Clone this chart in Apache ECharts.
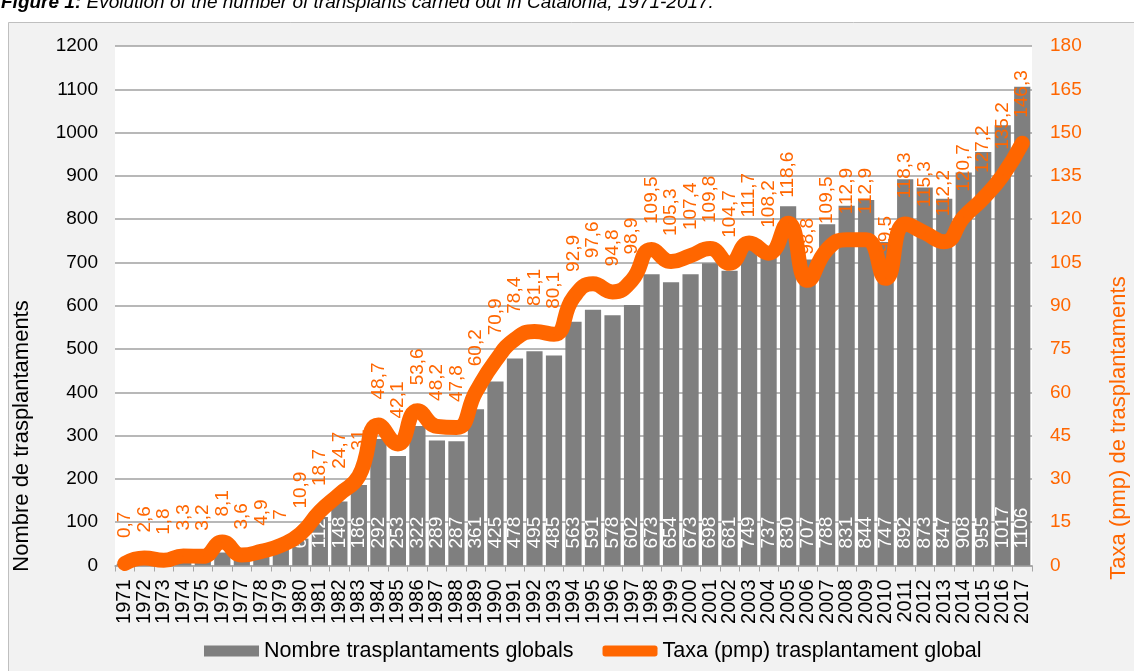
<!DOCTYPE html>
<html>
<head>
<meta charset="utf-8">
<title>Trasplantaments Catalunya 1971-2017</title>
<script src="https://cdn.jsdelivr.net/npm/echarts@6/dist/echarts.min.js"></script>
<style>
  html, body { margin: 0; padding: 0; background: #fff; }
  #container { width: 1134px; height: 671px; }
</style>
</head>
<body>
<div id="container"></div>
<script>
  // anys
  var years = ['1971', '1972', '1973', '1974', '1975', '1976', '1977', '1978', '1979', '1980',
    '1981', '1982', '1983', '1984', '1985', '1986', '1987', '1988', '1989', '1990',
    '1991', '1992', '1993', '1994', '1995', '1996', '1997', '1998', '1999', '2000',
    '2001', '2002', '2003', '2004', '2005', '2006', '2007', '2008', '2009', '2010',
    '2011', '2012', '2013', '2014', '2015', '2016', '2017']
  // nombre de trasplantaments globals (barres)
  var totalTx = [4, 14, 10, 18, 18, 30, 21, 29, 42, 62,
    112, 148, 186, 292, 253, 322, 289, 287, 361, 425,
    478, 495, 485, 563, 591, 578, 602, 673, 654, 673,
    698, 681, 749, 737, 830, 707, 788, 831, 844, 747,
    892, 873, 847, 908, 955, 1017, 1106]
  // taxa pmp (linia)
  var ratePmp = [0.7, 2.6, 1.8, 3.3, 3.2, 8.1, 3.6, 4.9, 7, 10.9,
    18.7, 24.7, 31, 48.7, 42.1, 53.6, 48.2, 47.8, 60.2, 70.9,
    78.4, 81.1, 80.1, 92.9, 97.6, 94.8, 98.9, 109.5, 105.3, 107.4,
    109.8, 104.7, 111.7, 108.2, 118.6, 98.8, 109.5, 112.9, 112.9, 99.5,
    118.3, 115.3, 112.2, 120.7, 127.2, 135.2, 146.3]

  var orange = '#FF6600'
  var grey = '#7F7F7F'
  var font = 'Liberation Sans, Arial, sans-serif'

  // coma decimal com a l'original
  function comma(v) {
    return String(v).replace('.', ',')
  }

  var myChart = echarts.init(document.getElementById('container'))
  myChart.setOption({
    backgroundColor: '#fff',
    textStyle: { fontFamily: font },
    graphic: [
      {
        type: 'rect',
        z: -10,
        shape: { x: 8.5, y: 22.5, width: 1140, height: 660 },
        style: { fill: '#F2F2F2', stroke: '#BFBFBF', lineWidth: 1 }
      },
      {
        type: 'text',
        left: 1,
        top: -7,
        style: {
          text: '{b|Figure 1:} Evolution of the number of transplants carried out in Catalonia, 1971-2017.',
          font: 'italic 19px ' + font,
          fill: '#000',
          rich: { b: { fontWeight: 'bold', fontStyle: 'italic', fontSize: 19 } }
        }
      },
      {
        type: 'text',
        x: 22,
        y: 436,
        rotation: Math.PI / 2,
        style: {
          text: 'Nombre de trasplantaments',
          font: '22px ' + font,
          fill: '#000',
          align: 'center',
          verticalAlign: 'middle'
        }
      },
      {
        type: 'text',
        x: 1119,
        y: 428,
        rotation: Math.PI / 2,
        style: {
          text: 'Taxa (pmp) de trasplantaments',
          font: '22px ' + font,
          fill: orange,
          align: 'center',
          verticalAlign: 'middle'
        }
      }
    ],
    legend: {
      bottom: 4,
      left: 199,
      itemWidth: 55,
      itemHeight: 11,
      itemGap: 29,
      textStyle: { fontSize: 21.5, color: '#000', fontFamily: font },
      data: [
        { name: 'Nombre trasplantaments globals', icon: 'rect' },
        { name: 'Taxa (pmp) trasplantament global', icon: 'roundRect' }
      ]
    },
    grid: {
      left: 115,
      right: 102,
      top: 46,
      bottom: 105.5,
      show: true,
      backgroundColor: '#fff',
      borderWidth: 0
    },
    xAxis: {
      type: 'category',
      data: years,
      axisLine: { lineStyle: { color: '#A6A6A6', width: 1.5 } },
      axisTick: { show: true, length: 6, lineStyle: { color: '#A6A6A6' } },
      axisLabel: { rotate: 90, fontSize: 20, color: '#000', margin: 14, interval: 0 }
    },
    yAxis: [
      {
        type: 'value',
        min: 0,
        max: 1200,
        interval: 100,
        axisLine: { show: false },
        axisTick: { show: false },
        axisLabel: {
          fontSize: 19,
          color: '#000',
          margin: 17,
          formatter: function (v) { return String(v) }
        },
        splitLine: { lineStyle: { color: '#A0A0A0', width: 1.5 } }
      },
      {
        type: 'value',
        min: 0,
        max: 180,
        interval: 15,
        axisLine: { show: false },
        axisTick: { show: false },
        axisLabel: { fontSize: 19, color: orange, margin: 18 },
        splitLine: { show: false }
      }
    ],
    series: [
      {
        name: 'Nombre trasplantaments globals',
        type: 'bar',
        data: totalTx,
        barCategoryGap: '17%',
        itemStyle: { color: grey },
        label: {
          show: true,
          position: 'insideBottom',
          rotate: 90,
          align: 'left',
          verticalAlign: 'middle',
          distance: 17,
          fontSize: 19,
          color: '#fff'
        },
        z: 2
      },
      {
        name: 'Taxa (pmp) trasplantament global',
        type: 'line',
        yAxisIndex: 1,
        data: ratePmp,
        smooth: true,
        showSymbol: true,
        symbol: 'circle',
        symbolSize: 1,
        lineStyle: { color: orange, width: 15, cap: 'round', join: 'round' },
        itemStyle: { color: orange },
        label: {
          show: true,
          position: 'top',
          rotate: 90,
          align: 'left',
          verticalAlign: 'middle',
          distance: 25,
          fontSize: 19,
          color: orange,
          formatter: function (p) { return comma(p.value) }
        },
        z: 3
      }
    ]
  })
</script>
</body>
</html>
